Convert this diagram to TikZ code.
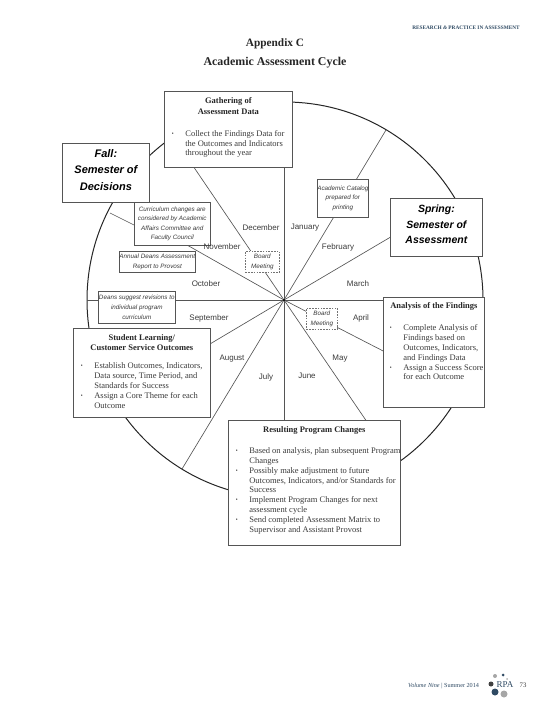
\documentclass[tikz,border=0pt]{standalone}
\usepackage{fontspec}
\setmainfont{Liberation Serif}
\newfontfamily\arialf{Liberation Sans}
\usetikzlibrary{calc}
\pgfdeclarelayer{back}
\pgfsetlayers{back,main}
\definecolor{edge}{HTML}{555555}
\definecolor{ink}{HTML}{3A3A3A}
\definecolor{navy}{HTML}{2F4A63}
\newdimen\indw
\newcommand{\ttl}[1]{\hbox to \linewidth{\hfil\bfseries\color{black!85}#1\hfil}}
\newcommand{\bl}[1]{\hbox{\makebox[\indw][l]{\textbf{·}}#1}}
\newcommand{\ct}[1]{\hbox{\hskip\indw #1}}
\newcommand{\panel}[6]{\node[textbox] (#1) at (#2,#3) {\parbox[c][#5pt][t]{#4pt}{\fontsize{8.5}{9.85}\selectfont\color{ink}#6}};}
\newcommand{\lift}{\rule[-6pt]{0pt}{6pt}}
\tikzset{
  x=1pt,y=-1pt,
  textbox/.style={draw=edge,line width=.7pt,fill=white,anchor=north west,inner sep=0pt},
  notebox/.style={draw=edge,line width=.6pt,fill=white,anchor=north west,inner sep=0pt,align=center,
    font=\arialf\itshape\fontsize{6.3}{9.6}\selectfont,text=ink},
  dashbox/.style={notebox,draw=black!55,dash pattern=on 1.6pt off 1.2pt},
  seasonbox/.style={draw=edge,line width=.8pt,fill=white,anchor=north west,inner sep=0pt,align=center,text=black},
  spoke/.style={draw=edge,line width=.65pt},
  rim/.style={draw=black!85,line width=1pt},
  month/.style={font=\arialf\fontsize{8}{9}\selectfont,text=ink,inner sep=0pt},
  head/.style={font=\bfseries,text=black!85,inner sep=0pt},
  foot/.style={inner sep=0pt,text=navy},
  blob/.style={inner sep=0pt,circle}
}
\begin{document}
\begin{tikzpicture}
\useasboundingbox (0,0) rectangle (550,711);

% page furniture
\node[foot,font=\bfseries\fontsize{5.3}{6}\selectfont] (runhead) at (466,28) {RESEARCH \textit{\&} PRACTICE IN ASSESSMENT};
\node[head,font=\bfseries\fontsize{11.3}{12}\selectfont] (appx) at (275,44) {Appendix C};
\node[head,font=\bfseries\fontsize{11.9}{12}\selectfont] (cycle) at (275,63) {Academic Assessment Cycle};
\node[foot,anchor=west,font=\fontsize{6.2}{7}\selectfont] (vol) at (408,686) {\textit{Volume Nine} | Summer 2014};
\node[foot,font=\fontsize{6.8}{8}\selectfont,text=ink] (pageno) at (523,685.5) {73};
\node[foot,font=\fontsize{9}{10}\selectfont] (rpa) at (505,685) {RPA};
\node[blob,fill=gray!70,minimum size=4pt] (l1) at (495,676) {};
\node[blob,fill=navy,minimum size=3pt] (l2) at (503,675) {};
\node[blob,fill=gray!60,minimum size=2pt] (l3) at (507,679) {};
\node[blob,fill=black!75,minimum size=5pt] (l4) at (491,684) {};
\node[blob,fill=navy,minimum size=7pt] (l5) at (495,692) {};
\node[blob,fill=gray!70,minimum size=7pt] (l6) at (504,694) {};

% boxes
\panel{gathering}{164}{91}{128}{76}{\vskip 6pt
  \ttl{Gathering of}\vskip 1.4pt\ttl{Assessment Data}\vskip 14.5pt
  \indw=14pt
  \hbox{\hskip 7pt\vbox{\bl{Collect the Findings Data for}\ct{the Outcomes and Indicators}\ct{throughout the year}}}}
\panel{analysis}{383}{297}{101}{110}{\vskip 5pt
  \ttl{Analysis of the Findings}\vskip 13.5pt
  \indw=14pt
  \hbox{\hskip 6pt\vbox{\bl{Complete Analysis of}\ct{Findings based on}\ct{Outcomes, Indicators,}\ct{and Findings Data}\bl{Assign a Success Score}\ct{for each Outcome}}}}
\panel{student}{73}{328}{137}{89}{\vskip 6pt
  \ttl{Student Learning/}\ttl{Customer Service Outcomes}\vskip 11.5pt
  \indw=14pt
  \hbox{\hskip 7pt\vbox{\bl{Establish Outcomes, Indicators,}\ct{Data source, Time Period, and}\ct{Standards for Success}\bl{Assign a Core Theme for each}\ct{Outcome}}}}
\panel{resulting}{228}{420}{172}{125}{\vskip 6.5pt
  \ttl{Resulting Program Changes}\vskip 12pt
  \indw=14pt
  \hbox{\hskip 7pt\vbox{\bl{Based on analysis, plan subsequent Program}\ct{Changes}\bl{Possibly make adjustment to future}\ct{Outcomes, Indicators, and/or Standards for}\ct{Success}\bl{Implement Program Changes for next}\ct{assessment cycle}\bl{Send completed Assessment Matrix to}\ct{Supervisor and Assistant Provost}}}}

\node[seasonbox,minimum width=87pt,minimum height=59pt,font=\arialf\bfseries\itshape\fontsize{11}{16.5}\selectfont] (fall) at (62,143) {Fall:\\Semester of\\Decisions\lift};
\node[seasonbox,minimum width=92pt,minimum height=58pt,font=\arialf\bfseries\itshape\fontsize{10.5}{15.4}\selectfont] (spring) at (390,198) {Spring:\\Semester of\\Assessment\lift};

\node[notebox,minimum width=76pt,minimum height=43pt] (curr) at (134,202) {Curriculum changes are\\considered by Academic\\Affairs Committee and\\Faculty Council};
\node[notebox,minimum width=76pt,minimum height=21pt] (annual) at (119,251) {Annual Deans Assessment\\Report to Provost};
\node[notebox,minimum width=77pt,minimum height=32pt] (deans) at (98,291) {Deans suggest revisions to\\individual program\\curriculum};
\node[notebox,minimum width=51pt,minimum height=38pt] (catalog) at (317,179) {Academic Catalog\\prepared for\\printing};
\node[dashbox,minimum width=34pt,minimum height=21pt] (board1) at (245,251) {Board\\Meeting};
\node[dashbox,minimum width=31pt,minimum height=21pt] (board2) at (306,308) {Board\\Meeting};

% months
\node[month] (dec) at (261,228) {December};
\node[month] (jan) at (305,228) {January};
\node[month] (feb) at (338,247) {February};
\node[month] (mar) at (358,284) {March};
\node[month] (apr) at (361,318) {April};
\node[month] (may) at (340,359) {May};
\node[month] (jun) at (307,376) {June};
\node[month] (jul) at (266,377) {July};
\node[month] (aug) at (232,359) {August};
\node[month] (sep) at (209,318) {September};
\node[month] (oct) at (206,284) {October};
\node[month] (nov) at (222,247) {November};

% wheel
\coordinate (hub) at (284,300);
\coordinate (ctr) at (285,300);
\coordinate (sJF) at (386,130);
\coordinate (sFM) at (455,199);
\coordinate (sMA) at (482,300);
\coordinate (sAM) at (459,390);
\coordinate (sMJ) at (395,463);
\coordinate (sJJ) at (284,498);
\coordinate (sJA) at (182,469);
\coordinate (sAS) at (114,401);
\coordinate (sSO) at (87,300);
\coordinate (sONa) at (187,245);
\coordinate (sONb) at (134,225);
\coordinate (sONc) at (110,213);
\coordinate (sND) at (172,135);
\coordinate (sDJ) at (284,102);
\begin{pgfonlayer}{back}
  \draw[rim] (ctr) circle[radius=198];
  \foreach \s in {sJF,sFM,sMA,sAM,sMJ,sJJ,sJA,sAS,sSO,sONa,sND,sDJ}
    \draw[spoke] (hub) -- (\s);
  \draw[spoke] (sONb) -- (sONc);
\end{pgfonlayer}
\fill[black] (hub) circle[radius=1.2];
\end{tikzpicture}
\end{document}
